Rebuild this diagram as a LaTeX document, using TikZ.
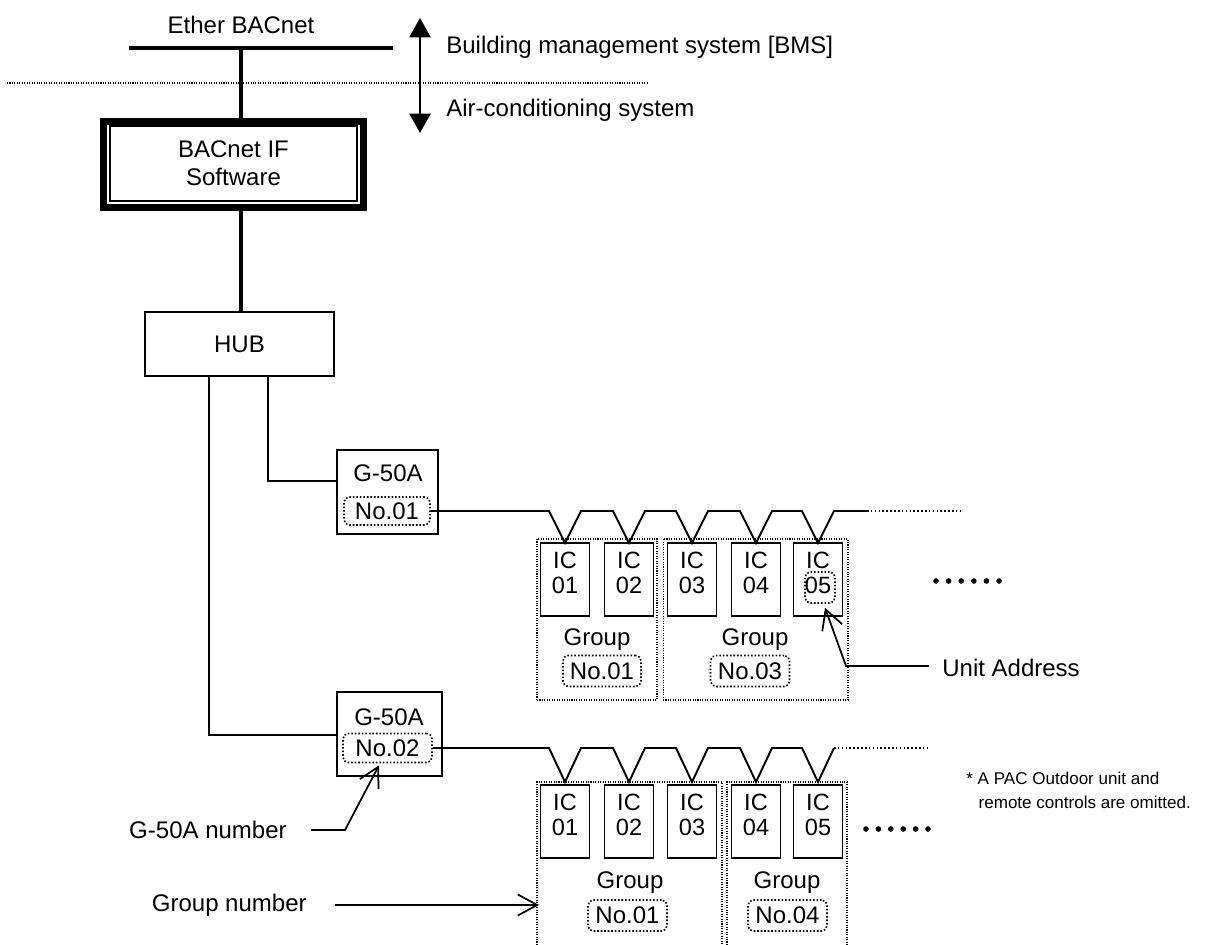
\documentclass[tikz,border=0pt]{standalone}
\usepackage{fontspec}
\setmainfont{Liberation Sans}
\usetikzlibrary{arrows.meta}

\begin{document}
\begin{tikzpicture}[x=0.02cm, y=-0.02cm,
  font=\fontsize{13.66pt}{16pt}\selectfont,
  bus/.style={line width=2.3pt},
  wire/.style={line width=1.1pt},
  bothway/.style={line width=1.1pt, {Triangle[width=12pt,length=11pt]}-{Triangle[width=12pt,length=11pt]}},
  pointer/.style={line width=1pt, -{Straight Barb[length=11pt,width=12pt]}},
  boxnode/.style={rectangle, draw, line width=1.1pt, inner sep=0pt},
  icbox/.style={rectangle, draw, line width=1.1pt, minimum width=0.98cm, minimum height=1.46cm},
  ictext/.style={align=center, inner sep=0pt, font=\fontsize{13.4pt}{14.3pt}\selectfont},
  numbox/.style={rectangle, draw, rounded corners=3pt, line width=0.9pt, dash pattern=on 0.9pt off 1.1pt, inner sep=0pt},
  grpline/.style={line width=0.6pt, dash pattern=on 0.6pt off 0.8pt},
  trunkdots/.style={line width=0.9pt, dash pattern=on 0.9pt off 1.3pt},
  plain/.style={inner sep=0pt}]
  \useasboundingbox (0, 0) rectangle (1226, 945);

  % BMS side
  \node (ether) [plain] at (241, 25) {Ether BACnet};
  \coordinate (busL) at (129, 48);
  \coordinate (busR) at (393, 48);
  \coordinate (tap) at (241, 48);
  \draw[bus] (busL) -- (busR);
  \draw[grpline] (7, 83) -- (648, 83);
  \coordinate (bmstip) at (420, 18);
  \coordinate (actip) at (420, 133);
  \draw[bothway] (bmstip) -- (actip);
  \node (bms) [plain, anchor=west] at (446, 47) {Building management system [BMS]};
  \node (acs) [plain, anchor=west] at (446, 110) {Air-conditioning system};

  % interface and hub
  \node (bacnet) [rectangle, draw, line width=4pt, minimum width=5.2cm, minimum height=1.72cm] at (233.5, 164.5) {};
  \node (bacnetin) [rectangle, draw, line width=0.8pt, minimum width=4.94cm, minimum height=1.5cm, align=center] at (233.5, 163.5) {BACnet IF\\Software};
  \node (hub) [boxnode, line width=0.85pt, minimum width=3.78cm, minimum height=1.28cm] at (239.5, 344) {HUB};
  \draw[bus] (tap) -- (tap |- bacnet.north);
  \draw[bus] (tap |- bacnet.south) -- (tap |- hub.north);

  % G-50A controllers
  \node (g1) [boxnode, minimum width=2.02cm, minimum height=1.68cm] at (387.5, 492) {};
  \node (g1lab) [plain] at (388, 473) {G-50A};
  \node (g1no) [numbox, minimum width=1.72cm, minimum height=0.56cm] at (387, 511) {No.01};
  \node (g2) [boxnode, minimum width=2.1cm, minimum height=1.68cm] at (389.5, 734) {};
  \node (g2lab) [plain] at (389, 717) {G-50A};
  \node (g2no) [numbox, minimum width=1.78cm, minimum height=0.58cm] at (387.5, 748) {No.02};
  \coordinate (brA) at (268, 481);
  \coordinate (brB) at (209, 735);
  \draw[wire] (hub.south -| brA) -- (brA) -- (brA -| g1.west);
  \draw[wire] (hub.south -| brB) -- (brB) -- (brB -| g2.west);

  % first line of indoor units
  \draw[wire] (g1no.east) foreach \x in {565,629,692,756,818} { -- (\x-16, 511) -- (\x, 543) -- (\x+16, 511) } -- (867, 511);
  \coordinate (trunkAend) at (867, 511);
  \coordinate (trunkAdots) at (963, 511);
  \draw[trunkdots] (trunkAend) -- (trunkAdots);
  \node (grpA1) [draw, grpline, minimum width=2.4cm, minimum height=3.22cm] at (597, 619.5) {};
  \node (grpA2) [draw, grpline, minimum width=3.7cm, minimum height=3.22cm] at (755.5, 619.5) {};
  \foreach \x [count=\i] in {565,629,692,756,818} {
    \node (icA\i) [icbox] at (\x, 579.5) {};
    \node (icAt\i) [ictext] at (\x, 572.5) {IC\\0\i};
  }
  \node (uabox) [numbox, minimum width=0.6cm, minimum height=0.62cm] at (820, 587.5) {};
  \node (grpA1lab) [plain] at (597, 640) {Group};
  \node (grpA1no) [numbox, minimum width=1.56cm, minimum height=0.62cm] at (602, 671) {No.01};
  \node (grpA2lab) [plain] at (755, 640) {Group};
  \node (grpA2no) [numbox, minimum width=1.58cm, minimum height=0.62cm] at (750, 671) {No.03};
  \foreach \k in {0,...,5} \fill (936+\k*12.6, 581) circle (1.6pt);

  % second line of indoor units
  \draw[wire] (g2no.east) foreach \x in {565,629,692,756,818} { -- (\x-16, 748) -- (\x, 782) -- (\x+16, 748) };
  \coordinate (trunkBend) at (834, 748);
  \coordinate (trunkBdots) at (930, 748);
  \draw[trunkdots] (trunkBend) -- (trunkBdots);
  \draw[grpline] (537, 945) -- (537, 782) -- (722, 782) -- (722, 945);
  \draw[grpline] (727, 945) -- (727, 782) -- (847, 782) -- (847, 945);
  \foreach \x [count=\i] in {565,629,692,756,818} {
    \node (icB\i) [icbox] at (\x, 821.5) {};
    \node (icBt\i) [ictext] at (\x, 815) {IC\\0\i};
  }
  \node (grpB1lab) [plain] at (630, 883) {Group};
  \node (grpB1no) [numbox, minimum width=1.58cm, minimum height=0.62cm] at (627.5, 915.5) {No.01};
  \node (grpB2lab) [plain] at (787, 883) {Group};
  \node (grpB2no) [numbox, minimum width=1.58cm, minimum height=0.62cm] at (787.5, 915.5) {No.04};
  \foreach \k in {0,...,5} \fill (866+\k*12.4, 829) circle (1.6pt);

  % explanations
  \node (unitaddr) [plain, anchor=west] at (942, 668) {Unit Address};
  \coordinate (uaend) at (929, 666);
  \coordinate (uabend) at (846, 666);
  \draw[pointer] (uaend) -- (uabend) -- ([xshift=0.1cm, yshift=-0.08cm]uabox.south);
  \node (g2num) [plain, anchor=east] at (287, 830) {G-50A number};
  \coordinate (g2numend) at (311, 830);
  \coordinate (g2numbend) at (345, 830);
  \draw[pointer] (g2numend) -- (g2numbend) -- ([xshift=-0.17cm, yshift=-0.04cm]g2no.south);
  \node (grpnum) [plain, anchor=east] at (307, 905) {Group number};
  \coordinate (grpnumend) at (335, 905);
  \coordinate (grpB1edge) at (539, 905);
  \draw[pointer] (grpnumend) -- (grpB1edge);
  \node (note) [plain, anchor=west, align=left, font=\fontsize{9.7pt}{13.7pt}\selectfont] at (966, 790) {* A PAC Outdoor unit and\\\hspace*{7pt}remote controls are omitted.};
\end{tikzpicture}
\end{document}
